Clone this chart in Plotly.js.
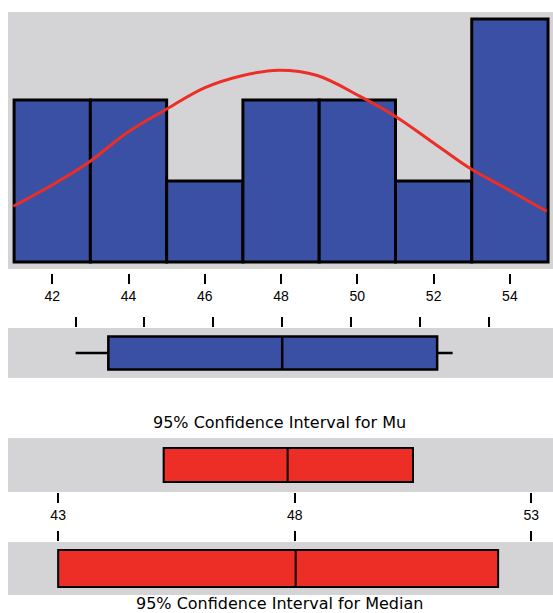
<!DOCTYPE html>
<html>
<head>
<meta charset="utf-8">
<script src="https://cdn.plot.ly/plotly-3.0.1.min.js"></script>
<style>html,body{margin:0;padding:0;background:#fff}#chart{width:553px;height:613px}</style>
</head>
<body>
<div id="chart"></div>
<script>
// ---- Data ----
const binCenters = [42, 44, 46, 48, 50, 52, 54];
const binCounts  = [2, 2, 1, 2, 2, 1, 3];
const binWidth   = 2;

// fitted normal curve
const curveX = [40.98, 42.02, 42.94, 43.96, 44.98, 45.99, 46.92, 47.94, 48.95, 50.06, 50.99, 52.0, 52.93, 53.95, 54.96];
const curveY = [0.689, 0.957, 1.225, 1.595, 1.883, 2.15, 2.294, 2.368, 2.302, 2.047, 1.8, 1.47, 1.163, 0.895, 0.627];

const histTicks = [42, 44, 46, 48, 50, 52, 54];
const histTickLabels = ['42', '44', '46', '48', '50', '52', '54'];

// boxplot summary (on its own tick scale)
const boxLowerWhisker = [42.0];
const boxQ1 = [42.95];
const boxMedian = [48.0];
const boxQ3 = [52.5];
const boxUpperWhisker = [52.95];
const boxTicks = [42, 44, 46, 48, 50, 52, 54];

// 95% confidence intervals
const muCI = {low: [45.23], center: [47.85], high: [50.5]};
const medianCI = {low: [43.0], center: [48.02], high: [52.3]};
const ciTicks = [43, 48, 53];
const ciTickLabels = ['43', '48', '53'];

const muTitle = '95% Confidence Interval for Mu';
const medianTitle = '95% Confidence Interval for Median';

// ---- Styling ----
const W = 553, H = 613;
const grey = 'rgb(212,212,214)';
const blue = 'rgb(58,80,165)';
const red = 'rgb(236,46,38)';
const fy = px => 1 - px / H;
const xDom = [8 / W, 1];
const tickFont = {family: 'Liberation Sans, Arial, sans-serif', size: 14, color: '#000'};

const traces = [
  {
    type: 'bar', x: binCenters, y: binCounts, width: binWidth,
    marker: {color: blue, line: {color: '#000', width: 3}},
    xaxis: 'x', yaxis: 'y', hoverinfo: 'skip'
  },
  {
    type: 'scatter', mode: 'lines', x: curveX, y: curveY,
    line: {color: red, width: 3, shape: 'spline', smoothing: 1},
    xaxis: 'x', yaxis: 'y', hoverinfo: 'skip'
  },
  {
    type: 'box', orientation: 'h', y: [0],
    q1: boxQ1, median: boxMedian, q3: boxQ3,
    lowerfence: boxLowerWhisker, upperfence: boxUpperWhisker,
    width: 0.66, whiskerwidth: 0, boxpoints: false,
    fillcolor: blue, line: {color: '#000', width: 2.5},
    xaxis: 'x2', yaxis: 'y2', hoverinfo: 'skip'
  },
  {
    type: 'box', orientation: 'h', y: [0],
    q1: muCI.low, median: muCI.center, q3: muCI.high,
    lowerfence: muCI.low, upperfence: muCI.high,
    width: 0.63, whiskerwidth: 0, boxpoints: false,
    fillcolor: red, line: {color: '#000', width: 2},
    xaxis: 'x3', yaxis: 'y3', hoverinfo: 'skip'
  },
  {
    type: 'box', orientation: 'h', y: [0],
    q1: medianCI.low, median: medianCI.center, q3: medianCI.high,
    lowerfence: medianCI.low, upperfence: medianCI.high,
    width: 0.70, whiskerwidth: 0, boxpoints: false,
    fillcolor: red, line: {color: '#000', width: 2},
    xaxis: 'x4', yaxis: 'y4', hoverinfo: 'skip'
  }
];

const hiddenY = {showgrid: false, zeroline: false, showticklabels: false, ticks: '', showline: false, fixedrange: true};
const baseX = {showgrid: false, zeroline: false, showline: false, ticks: 'outside', ticklen: 10, tickwidth: 2, tickcolor: '#000', tickfont: tickFont, fixedrange: true};

const layout = {
  width: W, height: H,
  margin: {l: 0, r: 0, t: 0, b: 0, pad: 0},
  paper_bgcolor: '#fff', plot_bgcolor: grey,
  showlegend: false, bargap: 0,
  xaxis: Object.assign({}, baseX, {
    domain: xDom, range: [40.84, 55.13], anchor: 'free', position: fy(273),
    tickmode: 'array', tickvals: histTicks, ticktext: histTickLabels
  }),
  yaxis: Object.assign({}, hiddenY, {domain: [fy(269), fy(12)], range: [-0.086, 3.086]}),
  xaxis2: Object.assign({}, baseX, {
    domain: xDom, range: [40.036, 55.865], anchor: 'y2', side: 'top',
    tickmode: 'array', tickvals: boxTicks, showticklabels: false
  }),
  yaxis2: Object.assign({}, hiddenY, {domain: [fy(378), fy(328)], range: [-0.5, 0.5]}),
  xaxis3: Object.assign({}, baseX, {
    domain: xDom, range: [41.94, 53.46], anchor: 'y3', side: 'bottom',
    tickmode: 'array', tickvals: ciTicks, ticktext: ciTickLabels
  }),
  yaxis3: Object.assign({}, hiddenY, {domain: [fy(492), fy(438)], range: [-0.5, 0.5]}),
  xaxis4: Object.assign({}, baseX, {
    domain: xDom, range: [41.94, 53.46], anchor: 'y4', side: 'top',
    tickmode: 'array', tickvals: ciTicks, showticklabels: false
  }),
  yaxis4: Object.assign({}, hiddenY, {domain: [fy(595), fy(542)], range: [-0.5, 0.5]}),
  annotations: [
    {text: muTitle, xref: 'paper', yref: 'paper', x: 279.5 / W, y: fy(423), xanchor: 'center', yanchor: 'middle',
     showarrow: false, font: {family: 'DejaVu Sans, sans-serif', size: 16, color: '#000'}},
    {text: medianTitle, xref: 'paper', yref: 'paper', x: 279 / W, y: fy(603), xanchor: 'center', yanchor: 'middle',
     showarrow: false, font: {family: 'DejaVu Sans, sans-serif', size: 16, color: '#000'}}
  ]
};

Plotly.newPlot('chart', traces, layout, {staticPlot: true, displayModeBar: false});
</script>
</body>
</html>
